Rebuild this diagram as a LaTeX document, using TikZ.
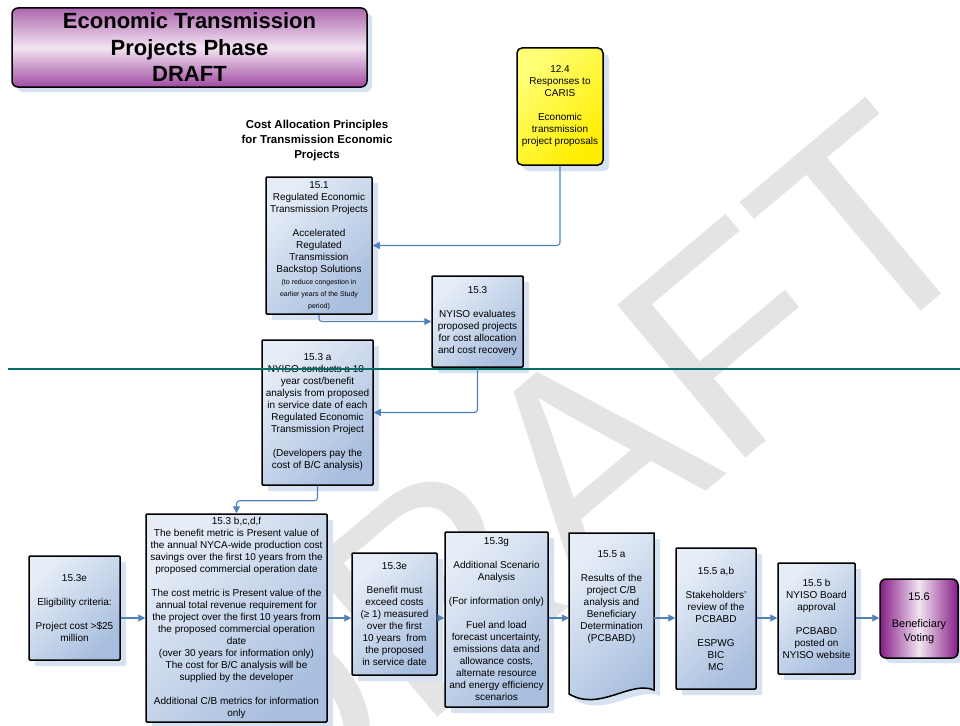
\documentclass[tikz,border=0pt]{standalone}
\usepackage{fontspec}
\setmainfont{Liberation Sans}
\usetikzlibrary{arrows.meta,shadows,calc}
\definecolor{connc}{RGB}{79,129,189}
\definecolor{boxtop}{RGB}{230,237,247}
\definecolor{boxbot}{RGB}{168,190,222}
\definecolor{shadowc}{RGB}{214,225,241}
\definecolor{purpedge}{RGB}{160,75,160}
\definecolor{purpmid}{RGB}{242,228,242}
\definecolor{purpdark}{RGB}{135,30,135}
\definecolor{teal}{RGB}{0,110,100}
\definecolor{wmark}{RGB}{228,228,228}
\newcommand{\smalltxt}{\fontsize{7}{11}\selectfont}
\tikzset{
  boxnode/.style={draw=black, line width=1.5pt, rounded corners=1pt,
    top color=boxtop, bottom color=boxbot, shading angle=45,
    general shadow={fill=shadowc, shadow xshift=6pt, shadow yshift=-6pt},
    align=center, inner sep=0pt, text=black,
    font=\fontsize{10}{12}\selectfont},
  conn/.style={draw=connc, line width=1.1pt, rounded corners=3pt,
    -{Triangle[length=7pt,width=7pt]}},
  plain/.style={align=center, inner sep=0pt}
}
\begin{document}
\begin{tikzpicture}[x=1pt,y=-1pt]
\useasboundingbox (0,0) rectangle (960,725);
% watermark
\node[rotate=40, text=wmark, font=\fontsize{290}{290}\selectfont, inner sep=0pt] (wm) at (565,480) {DRAFT};

% title
\node[draw=black, line width=1.5pt, rounded corners=6pt,
  top color=purpedge!85, bottom color=purpedge, middle color=purpmid,
  general shadow={fill=shadowc, shadow xshift=5pt, shadow yshift=-5pt},
  minimum width=355pt, minimum height=79pt, align=center, inner sep=0pt,
  font=\fontsize{22}{26.5}\selectfont\bfseries] (title) at (189.5,47.5)
  {Economic Transmission\\Projects Phase\\DRAFT};

% yellow box
\node[draw=black, line width=1.5pt, rounded corners=5pt,
  top color={rgb,255:red,255;green,255;blue,120}, bottom color={rgb,255:red,255;green,238;blue,0}, shading angle=45,
  general shadow={fill=shadowc, shadow xshift=6pt, shadow yshift=-6pt},
  minimum width=86pt, minimum height=117pt, align=center, inner sep=0pt,
  font=\fontsize{10}{12}\selectfont] (y124) at (560,106.5)
  {12.4\\Responses to\\CARIS\\[12pt]Economic\\transmission\\project proposals};

% cost allocation heading
\node[plain, font=\fontsize{11.5}{15}\selectfont\bfseries] (cap) at (317,141)
  {Cost Allocation Principles\\for Transmission Economic\\Projects};

% 15.1
\node[boxnode, minimum width=106pt, minimum height=137pt] (r151) at (319,245.5)
  {15.1\\Regulated Economic\\Transmission Projects\\[12pt]Accelerated\\Regulated\\Transmission\\Backstop Solutions\\{\smalltxt (to reduce congestion in}\\{\smalltxt earlier years of the Study}\\{\smalltxt period)}};

% 15.3
\node[boxnode, minimum width=91pt, minimum height=91pt] (r153) at (477.5,321.5)
  {15.3\\[12pt]NYISO evaluates\\proposed projects\\for cost allocation\\and cost recovery};

% 15.3 a
\node[boxnode, minimum width=111pt, minimum height=145pt] (r153a) at (317.5,412.5)
  {15.3 a\\NYISO conducts a 10-\\year cost/benefit\\analysis from proposed\\in service date of each\\Regulated Economic\\Transmission Project\\[12pt](Developers pay the\\cost of B/C analysis)};

% bottom row
\node[boxnode, minimum width=91pt, minimum height=104pt] (e1) at (74.5,608)
  {15.3e\\[12pt]Eligibility criteria:\\[12pt]Project cost >\$25\\million};

\node[boxnode, minimum width=181pt, minimum height=208pt] (bcdf) at (236.5,618)
  {15.3 b,c,d,f\\The benefit metric is Present value of\\the annual NYCA-wide production cost\\savings over the first 10 years from the\\proposed commercial operation date\\[12pt]The cost metric is Present value of the\\annual total revenue requirement for\\the project over the first 10 years from\\the proposed commercial operation\\date\\(over 30 years for information only)\\The cost for B/C analysis will be\\supplied by the developer\\[12pt]Additional C/B metrics for information\\only};

\node[boxnode, minimum width=85pt, minimum height=122pt] (e2) at (394.5,614)
  {15.3e\\[12pt]Benefit must\\exceed costs\\(≥ 1) measured\\over the first\\10 years\ \ from\\the proposed\\in service date};

\node[boxnode, minimum width=103pt, minimum height=175pt] (g) at (496.5,619.5)
  {15.3g\\[12pt]Additional Scenario\\Analysis\\[12pt](For information only)\\[12pt]Fuel and load\\forecast uncertainty,\\emissions data and\\allowance costs,\\alternate resource\\and energy efficiency\\scenarios};

% document shape 15.5 a
\path[draw=black, line width=1.5pt, top color=boxtop, bottom color=boxbot, shading angle=45,
  general shadow={fill=shadowc, shadow xshift=6pt, shadow yshift=-6pt}]
  (569,533) -- (654,533) -- (654,690)
  .. controls (630,680) and (600,712) .. (569,694) -- cycle;
\node[plain, font=\fontsize{10}{12}\selectfont] (doc) at (611.5,597)
  {15.5 a\\[12pt]Results of the\\project C/B\\analysis and\\Beneficiary\\Determination\\(PCBABD)};
\coordinate (docw) at (569,618);
\coordinate (doce) at (654,618);

\node[boxnode, minimum width=80pt, minimum height=141pt] (ab) at (716,618.5)
  {15.5 a,b\\[12pt]Stakeholders'\\review of the\\PCBABD\\[12pt]ESPWG\\BIC\\MC};

\node[boxnode, minimum width=77pt, minimum height=111pt] (b) at (816.5,618.5)
  {15.5 b\\NYISO Board\\approval\\[12pt]PCBABD\\posted on\\NYISO website};

\node[draw=black, line width=1.5pt, rounded corners=6pt,
  left color=purpdark, right color=purpdark, middle color=purpmid,
  general shadow={fill=shadowc, shadow xshift=5pt, shadow yshift=-5pt},
  minimum width=78pt, minimum height=79pt, align=center, inner sep=0pt,
  font=\fontsize{11}{13.5}\selectfont] (v) at (919,618.5)
  {15.6\\[13.5pt]Beneficiary\\Voting};

% teal line
\draw[teal, line width=1.2pt] (8,369) -- (960,369);

% connectors
\draw[conn] (y124.south) |- (r151.east);
\draw[conn] (r151.south) |- (r153.west);
\draw[conn] (r153.south) |- (r153a.east);
\draw[conn] (r153a.south) -- ++(0,15) -| (bcdf.north);
\draw[conn] (e1.east |- bcdf.west) -- (bcdf.west);
\draw[conn] (bcdf.east) -- (e2.west |- bcdf.east);
\draw[conn] (e2.east |- bcdf.east) -- (g.west |- bcdf.east);
\draw[conn] (g.east |- bcdf.east) -- (docw);
\draw[conn] (doce) -- (ab.west |- doce);
\draw[conn] (ab.east |- doce) -- (b.west |- doce);
\draw[conn] (b.east |- doce) -- (v.west |- doce);
\end{tikzpicture}
\end{document}
